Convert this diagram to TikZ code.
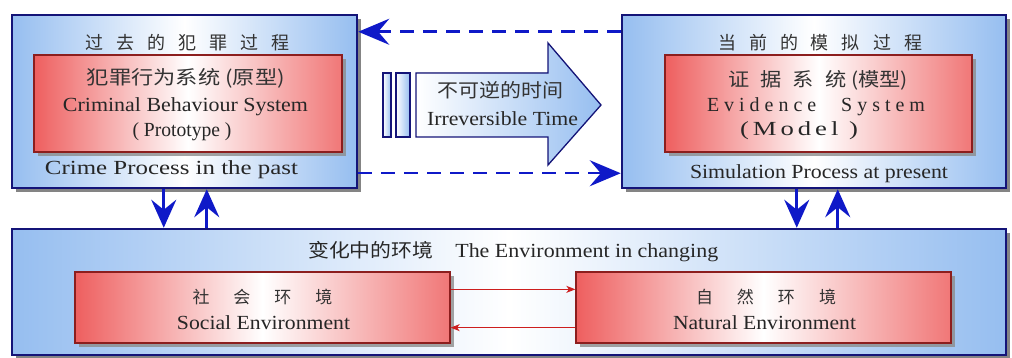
\documentclass[tikz,border=0pt]{standalone}
\usepackage{fontspec}
\usepackage{graphicx}
\setmainfont{Liberation Serif}
\newfontfamily\cjk{Noto Sans CJK SC}
\newfontfamily\spacedserif[LetterSpace=15]{Liberation Serif}
\usetikzlibrary{shadows,arrows.meta,calc}
\definecolor{navy}{RGB}{20,20,120}
\definecolor{lblue}{RGB}{150,190,240}
\definecolor{salmon}{RGB}{238,95,95}
\definecolor{dred}{RGB}{140,30,30}
\definecolor{arrblue}{RGB}{15,25,200}
\definecolor{lred}{RGB}{205,30,30}
\newlength\cjkgw
\newcommand\cjkgap{\hspace{\cjkgw}}
\newcommand\fitto[2]{\resizebox{#1}{\height}{#2}}
\begin{document}
\begin{tikzpicture}[x=1pt,y=-1pt,
  outerbox/.style={draw=navy, line width=2.5pt, inner sep=0pt,
    left color=lblue, right color=lblue, middle color=white,
    drop shadow={shadow xshift=4pt, shadow yshift=-4pt, fill=black!60, opacity=0.8}},
  redbox/.style={draw=dred, line width=1.3pt, inner sep=0pt,
    left color=salmon, right color=salmon!85, middle color=white,
    drop shadow={shadow xshift=4pt, shadow yshift=-4pt, fill=black!45, opacity=0.8}},
  entext/.style={font=\fontsize{20}{24}\selectfont, inner sep=0pt, text=black!85},
  zhtext/.style={font=\cjk\fontsize{18}{22}\selectfont, inner sep=0pt, text=black!80},
  varrow/.style={draw=arrblue, line width=3pt, -{Stealth[length=28pt,width=25pt,inset=10pt]}},
  dasharrow/.style={draw=arrblue, line width=2.5pt, dash pattern=on 14pt off 9pt,
    -{Stealth[length=31pt,width=26pt,inset=11pt]}},
  redarrow/.style={draw=lred, line width=1.2pt, -{Stealth[length=9pt,width=7pt,inset=2.5pt]}},
  blockarrow/.style={draw=navy, line width=1.3pt, left color=white, right color=lblue}
]
\fill[white] (0,0) rectangle (1012,358);
\useasboundingbox (0,0) rectangle (1012,358);

% outer boxes
\node[outerbox, minimum width=345pt, minimum height=173pt] (lbox) at (184.5,101.5) {};
\node[outerbox, minimum width=384pt, minimum height=173pt] (rbox) at (814,101.5) {};
\node[outerbox, minimum width=994pt, minimum height=126pt] (bbox) at (509,292) {};

% inner red boxes
\node[redbox, minimum width=308pt, minimum height=97pt] (proto) at (188,103.5) {};
\node[redbox, minimum width=307pt, minimum height=97pt] (model) at (818.5,103.5) {};
\node[redbox, minimum width=375pt, minimum height=71pt] (soc) at (262.5,307.5) {};
\node[redbox, minimum width=375pt, minimum height=71pt] (nat) at (763.5,307.5) {};

% left box texts
\node[zhtext] (ltitle) at (187.5,43) {\setlength\cjkgw{13pt}过\cjkgap 去\cjkgap 的\cjkgap 犯\cjkgap 罪\cjkgap 过\cjkgap 程};
\node[zhtext, font=\cjk\fontsize{19}{22}\selectfont] (pzh) at (186,78) {\fitto{198pt}{犯罪行为系统 (原型)}};
\node[entext] (pen) at (185.5,107) {\fitto{245pt}{Criminal Behaviour System}};
\node[entext] (pen2) at (182,132) {\fitto{99pt}{( Prototype )}};
\node[entext] (lcap) at (171.5,170) {\fitto{253pt}{Crime Process in the past}};

% right box texts
\node[zhtext] (rtitle) at (820,43) {\setlength\cjkgw{13pt}当\cjkgap 前\cjkgap 的\cjkgap 模\cjkgap 拟\cjkgap 过\cjkgap 程};
\node[zhtext, font=\cjk\fontsize{19}{22}\selectfont] (mzh) at (818,80) {\fitto{180pt}{\setlength\cjkgw{10pt}证\cjkgap 据\cjkgap 系\cjkgap 统 (模型)}};
\node[entext] (men) at (816,107) {\fitto{218pt}{E v i d e n c e \quad S y s t e m}};
\node[entext, font=\spacedserif\fontsize{20}{24}\selectfont] (men2) at (799,131) {\fitto{118pt}{(Model )}};
\node[entext] (rcap) at (819,174) {\fitto{258pt}{Simulation Process at present}};

% bottom box texts
\node[entext, anchor=west] (btitle) at (308,252) {\fitto{410pt}{{\cjk\fontsize{19}{22}\selectfont 变化中的环境}\quad The Environment in changing}};
\node[zhtext, font=\cjk\fontsize{17}{20}\selectfont] (szh) at (262.5,297) {\setlength\cjkgw{24pt}社\cjkgap 会\cjkgap 环\cjkgap 境};
\node[entext] (sen) at (263.5,323) {\fitto{173pt}{Social Environment}};
\node[zhtext, font=\cjk\fontsize{17}{20}\selectfont] (nzh) at (766,297) {\setlength\cjkgw{24pt}自\cjkgap 然\cjkgap 环\cjkgap 境};
\node[entext] (nen) at (764.5,323) {\fitto{183pt}{Natural Environment}};

% big time arrow
\filldraw[blockarrow] (383,73) rectangle (391,137);
\filldraw[blockarrow] (396,73) rectangle (410,137);
\filldraw[blockarrow] (416,73) -- (548,73) -- (548,43) -- (601,105) -- (548,165) -- (548,137) -- (416,137) -- cycle;
\node[zhtext, font=\cjk\fontsize{19}{22}\selectfont] (tzh) at (500,90) {\fitto{126pt}{不可逆的时间}};
\node[entext] (ten) at (502.5,119) {\fitto{151pt}{Irreversible Time}};

% dashed arrows
\coordinate (dt) at ([yshift=-18pt]rbox.north west);
\draw[dasharrow] (dt) -- (dt -| lbox.east);
\coordinate (db) at ([yshift=16pt]lbox.south east);
\draw[dasharrow] (db) -- (db -| rbox.west);

% vertical arrows
\coordinate (l1) at ([xshift=153pt]lbox.south west);
\coordinate (l2) at ([xshift=196pt]lbox.south west);
\coordinate (r1) at ([xshift=176pt]rbox.south west);
\coordinate (r2) at ([xshift=217pt]rbox.south west);
\draw[varrow] (l1) -- (l1 |- bbox.north);
\draw[varrow] (l2 |- bbox.north) -- (l2);
\draw[varrow] (r1) -- (r1 |- bbox.north);
\draw[varrow] (r2 |- bbox.north) -- (r2);

% red arrows
\coordinate (ra) at ([yshift=-18pt]soc.north east);
\draw[redarrow] (ra) -- (ra -| nat.west);
\coordinate (rb) at ([yshift=16pt]soc.south east);
\draw[redarrow] (rb -| nat.west) -- (rb);
\end{tikzpicture}
\end{document}
